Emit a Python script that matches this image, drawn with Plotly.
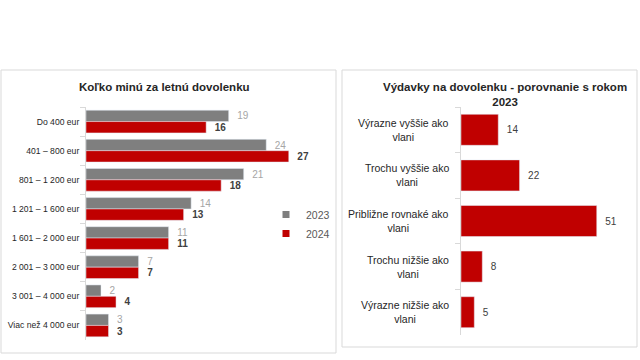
import plotly.graph_objects as go

# Left chart data
cats_left = ["Do 400 eur", "401 – 800 eur", "801 – 1 200 eur", "1 201 – 1 600 eur",
             "1 601 – 2 000 eur", "2 001 – 3 000 eur", "3 001 – 4 000 eur", "Viac než 4 000 eur"]
vals_2023 = [19, 24, 21, 14, 11, 7, 2, 3]
vals_2024 = [16, 27, 18, 13, 11, 7, 4, 3]
series_names = ["2023", "2024"]

# Right chart data
cats_right = ["Výrazne vyššie ako<br>vlani", "Trochu vyššie ako<br>vlani",
              "Približne rovnaké ako<br>vlani", "Trochu nižšie ako<br>vlani",
              "Výrazne nižšie ako<br>vlani"]
vals_right = [14, 22, 51, 8, 5]

FONT = "Liberation Sans"
RED = "#c00000"
GRAY = "#7f7f7f"

fig = go.Figure()
fig.add_trace(go.Bar(
    y=cats_left, x=vals_2023, orientation="h", name=series_names[0],
    marker=dict(color=GRAY), xaxis="x", yaxis="y", showlegend=False,
    text=vals_2023, textposition="outside", texttemplate="  %{x}",
    textfont=dict(color="#a6a6a6", size=10, family=FONT), cliponaxis=False,
))
fig.add_trace(go.Bar(
    y=cats_left, x=vals_2024, orientation="h", name=series_names[1],
    marker=dict(color=RED), xaxis="x", yaxis="y", showlegend=False,
    text=vals_2024, textposition="outside", texttemplate="  <b>%{x}</b>",
    textfont=dict(color="#404040", size=10, family=FONT), cliponaxis=False,
))
# legend entries (small square markers like the reference)
for nm, col in zip(series_names, [GRAY, RED]):
    fig.add_trace(go.Scatter(
        x=[None], y=[None], mode="markers", name=nm, xaxis="x", yaxis="y",
        marker=dict(symbol="square", size=7, color=col), showlegend=True,
    ))
fig.add_trace(go.Bar(
    y=cats_right, x=vals_right, orientation="h", name="Výdavky",
    marker=dict(color=RED), xaxis="x2", yaxis="y2", showlegend=False,
    text=vals_right, textposition="outside", texttemplate="  %{x}",
    textfont=dict(color="#404040", size=10, family=FONT), cliponaxis=False,
    width=0.68,
))

W, H = 640, 360
def px(x):
    return x / W
def py(y):
    return 1 - y / H

annotations = [
    dict(text="<b>Koľko minú za letnú dovolenku</b>", xref="paper", yref="paper",
         x=px(164), y=py(87), xanchor="center", yanchor="middle", showarrow=False,
         font=dict(size=11.5, family=FONT, color="#262626")),
    dict(text="<b>Výdavky na dovolenku - porovnanie s rokom<br>2023</b>", xref="paper", yref="paper",
         x=px(505), y=py(95), xanchor="center", yanchor="middle", showarrow=False,
         font=dict(size=11.5, family=FONT, color="#262626")),
]
# right chart category labels: block right-aligned, lines centred (as in the reference)
for c in cats_right:
    annotations.append(dict(
        text=c, xref="paper", yref="y2", x=px(451), y=c, xanchor="right", yanchor="middle",
        align="center", showarrow=False,
        font=dict(size=10.5, family=FONT, color="#262626"),
    ))

fig.update_layout(
    width=W, height=H, margin=dict(l=0, r=0, t=0, b=0),
    paper_bgcolor="white", plot_bgcolor="white",
    font=dict(family=FONT, color="#404040"),
    barmode="group", bargap=0.22, bargroupgap=0,
    xaxis=dict(domain=[px(86), px(86 + 225.3)], range=[0, 30], visible=False),
    yaxis=dict(domain=[py(340), py(107)], type="category", autorange="reversed",
               showline=True, linecolor="#d9d9d9", linewidth=1,
               ticks="outside", tickson="boundaries", ticklen=5, tickcolor="#d9d9d9",
               tickfont=dict(size=8.6, family=FONT, color="#262626"), ticklabelstandoff=4,
               showgrid=False),
    xaxis2=dict(domain=[px(461), px(461 + 159.7)], range=[0, 60], visible=False, anchor="y2"),
    yaxis2=dict(domain=[py(335), py(107)], type="category", autorange="reversed",
                anchor="x2", showticklabels=False,
                showline=True, linecolor="#d9d9d9", linewidth=1,
                ticks="outside", tickson="boundaries", ticklen=5, tickcolor="#d9d9d9",
                showgrid=False),
    legend=dict(x=px(266), y=py(200), xanchor="left", yanchor="top",
                font=dict(size=10.5, family=FONT, color="#595959"),
                traceorder="normal", itemwidth=30, tracegroupgap=0,
                bgcolor="rgba(0,0,0,0)"),
    showlegend=True,
    shapes=[
        dict(type="rect", xref="paper", yref="paper", x0=px(1), x1=px(336), y0=py(353), y1=py(70),
             line=dict(color="#d9d9d9", width=1)),
        dict(type="rect", xref="paper", yref="paper", x0=px(342), x1=px(637), y0=py(347), y1=py(70),
             line=dict(color="#d9d9d9", width=1)),
    ],
    annotations=annotations,
)

fig.write_html("out.html", config={"displayModeBar": False},
               post_script="document.body.style.margin='0';")
